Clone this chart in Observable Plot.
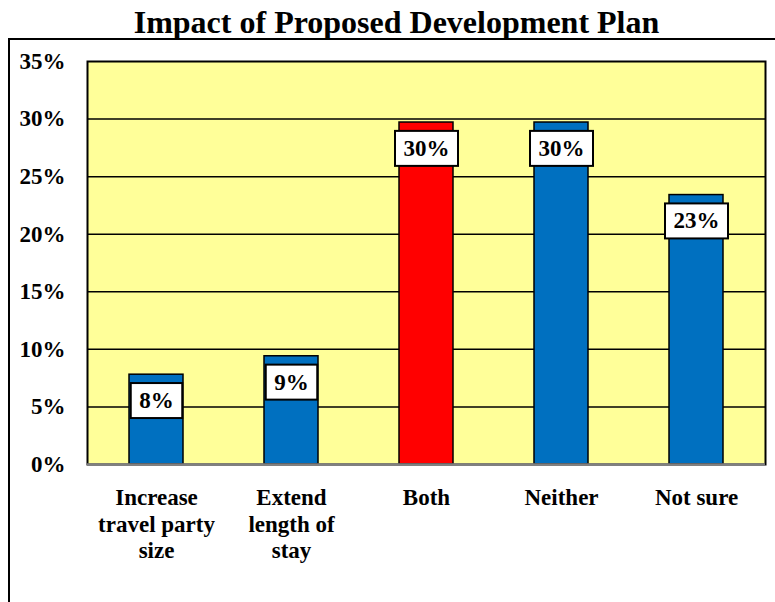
<!DOCTYPE html>
<html>
<head>
<meta charset="utf-8">
<script src="https://cdn.jsdelivr.net/npm/d3@7"></script>
<script src="https://cdn.jsdelivr.net/npm/@observablehq/plot@0.6"></script>
<style>
  html, body { margin: 0; padding: 0; background: #fff; }
  body { width: 775px; height: 602px; position: relative; overflow: hidden;
         font-family: "Liberation Serif", "Times New Roman", serif; }
  #title { position: absolute; top: 4px; left: 0; width: 775px; box-sizing: border-box;
           padding-left: 18px; text-align: center; font-size: 32px; font-weight: bold;
           color: #000; line-height: normal; white-space: nowrap; }
  #box { position: absolute; left: 8px; top: 38px; width: 765px; height: 564px;
         border-left: 2px solid #000; border-top: 2px solid #000; }
  #box svg { display: block; }
</style>
</head>
<body>
<div id="title">Impact of Proposed Development Plan</div>
<div id="box"></div>
<script>
const categories = ["Increase travel party size", "Extend length of stay", "Both", "Neither", "Not sure"];
const tickLabels = ["Increase\ntravel party\nsize", "Extend\nlength of\nstay", "Both", "Neither", "Not sure"];
const values = [7.8, 9.4, 29.7, 29.7, 23.4];
const valueLabels = ["8%", "9%", "30%", "30%", "23%"];
const yTicks = [0, 5, 10, 15, 20, 25, 30, 35];

const data = categories.map((c, i) => ({category: c, value: values[i], label: valueLabels[i]}));
const font = '"Liberation Serif", "Times New Roman", serif';
const BLUE = "#0070C0", RED = "#FF0000", YELLOW = "#FFFF99";

const chart = Plot.plot({
  width: 765,
  height: 562,
  marginLeft: 77,
  marginRight: 10,
  marginTop: 21,
  marginBottom: 138,
  style: {fontFamily: font, background: "transparent", overflow: "visible", color: "#000"},
  x: {domain: categories, paddingInner: 0.6, paddingOuter: 0.3, axis: null},
  y: {domain: [0, 35], axis: null},
  marks: [
    Plot.frame({fill: YELLOW}),
    Plot.ruleY(yTicks.filter(t => t > 0 && t < 35), {stroke: "#000", strokeWidth: 1.5}),
    Plot.barY(data, {x: "category", y: "value", fill: d => d.category === "Both" ? RED : BLUE, stroke: "#000", strokeWidth: 1.5}),
    Plot.frame({stroke: "#000", strokeWidth: 2}),
    Plot.ruleY([0], {stroke: "#808080", strokeWidth: 2.5}),
    Plot.axisY({ticks: yTicks, tickSize: 0, tickPadding: 22, tickFormat: d => d + "%", fontSize: 23, fontWeight: "bold", fill: "#000", label: null}),
    Plot.axisX({tickSize: 0, tickPadding: 21, tickFormat: d => tickLabels[categories.indexOf(d)], fontSize: 23, fontWeight: "bold", fill: "#000", lineHeight: 1.17, label: null}),
    Plot.text(data, {x: "category", y: "value", text: "label", dy: 26, fontSize: 23, fontWeight: "bold", fill: "#000"})
  ]
});
document.getElementById("box").appendChild(chart);

// white boxes behind the value labels, sized to each label's text
const NS = "http://www.w3.org/2000/svg";
chart.querySelectorAll('g[aria-label="text"] text').forEach(t => {
  const b = t.getBBox();
  const r = document.createElementNS(NS, "rect");
  const w = b.width + 17, h = 35;
  const cy = b.y + b.height / 2;
  r.setAttribute("x", b.x - 8.5);
  r.setAttribute("y", cy - h / 2);
  r.setAttribute("width", w);
  r.setAttribute("height", h);
  r.setAttribute("fill", "#fff");
  r.setAttribute("stroke", "#000");
  r.setAttribute("stroke-width", 2);
  const tr = t.getAttribute("transform");
  if (tr) r.setAttribute("transform", tr);
  const xa = t.getAttribute("x");
  t.parentNode.insertBefore(r, t);
});
</script>
</body>
</html>
